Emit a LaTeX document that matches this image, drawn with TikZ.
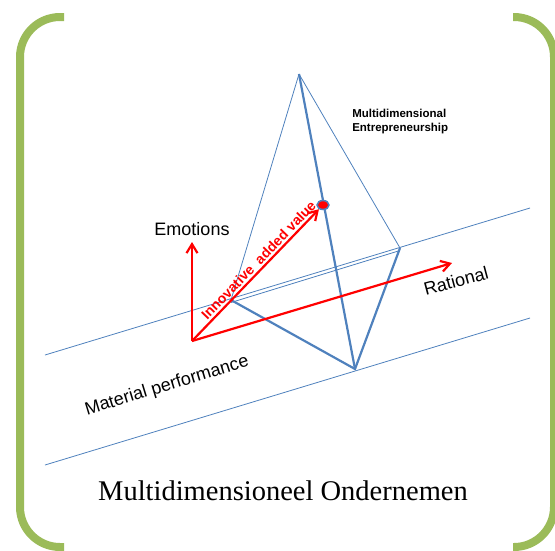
\documentclass[tikz,border=0pt]{standalone}
\usepackage{fontspec}
\setmainfont{Liberation Serif}
\setsansfont{Liberation Sans}
\usetikzlibrary{arrows.meta}
\usetikzlibrary{positioning}
\usetikzlibrary{shapes.geometric}
\definecolor{framegreen}{RGB}{155,187,89}
\definecolor{edgeblue}{RGB}{79,129,189}

\begin{document}
\begin{tikzpicture}[x=1pt,y=-1pt,>={Straight Barb[length=9pt,width=11pt]},
				semithick]
				\tikzstyle{frame}=[draw=framegreen,line width=8pt,rounded corners=40pt]
				\tikzstyle{thinedge}=[draw=edgeblue,line width=0.8pt]
				\tikzstyle{thickedge}=[draw=edgeblue,line width=2.2pt]
				\tikzstyle{axis}=[draw=red,line width=2.2pt,->]
				\tikzstyle{axislabel}=[font=\sffamily\fontsize{18}{18}\selectfont,inner sep=2pt]
				
				\useasboundingbox (0,0) rectangle (555,550);
				
				% green frame corners
				\draw[frame] (64,17) -- (20,17) -- (20,547) -- (64,547);
				\draw[frame] (513,17) -- (554,17) -- (554,547) -- (513,547);
				
				% the two planes
				\coordinate (P1) at (45,355);
				\coordinate (P2) at (530,208);
				\coordinate (Q1) at (45,465);
				\coordinate (Q2) at (530,318);
				\draw[thinedge] (P1) -- (P2);
				\draw[thinedge] (Q1) -- (Q2);
				
				% pyramid
				\coordinate (Top) at (299,74);
				\coordinate (A)   at (231,300);
				\coordinate (B)   at (400,248);
				\coordinate (C)   at (355,369);
				\draw[thinedge] (Top) -- (A);
				\draw[thinedge] (Top) -- (B);
				\draw[thinedge] ([yshift=-2.5pt]A) -- ([yshift=-2.5pt]B);
				\draw[thickedge] (Top) -- (C);
				\draw[thickedge] (A) -- (C) -- (B);
				
				% axes
				\coordinate (O) at (192,341);
				\coordinate (E) at (192,242);
				\coordinate (R) at (452,263);
				\node[ellipse,draw=edgeblue,line width=1.5pt,fill=red,inner sep=0pt,
					minimum width=12pt,minimum height=9pt] (dot) at (323,205) {};
				
				\node[axislabel] (Emotions) [above=4pt of E] {Emotions};
				\node[axislabel,rotate=15] (Rational) at (456,281) {Rational};
				\node[axislabel,rotate=17] (Material) at (167,386) {Material performance};
				
				\path (O) edge[axis] (E)
				(O) edge[axis] (R)
				(O) edge[axis] node[pos=0.57,sloped,above,inner sep=2pt,text=red,
					font=\sffamily\bfseries\fontsize{14}{14}\selectfont] {Innovative~ added value} (dot)
				;
				
				\node[anchor=north west,align=left,inner sep=0pt,
					font=\sffamily\bfseries\fontsize{11.5}{14}\selectfont] (MultiEnt) at (352,109)
					{Multidimensional\\Entrepreneurship};
				\node[font=\fontsize{28.5}{28.5}\selectfont] (Title) at (283,491)
					{Multidimensioneel Ondernemen};
\end{tikzpicture}
\end{document}
